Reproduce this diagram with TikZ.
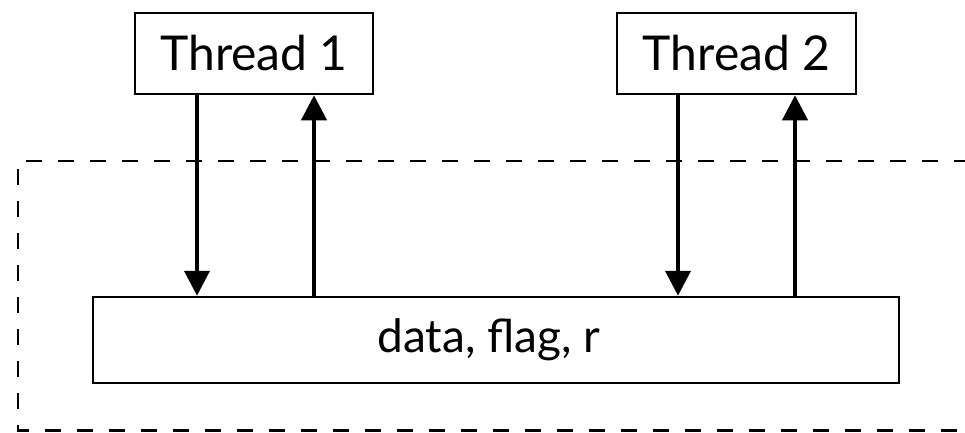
\documentclass[tikz,border=0pt]{standalone}
\usepackage{fontspec}
\setmainfont{Lato}
\usetikzlibrary{arrows.meta}
\begin{document}
\begin{tikzpicture}[x=1pt,y=1pt,
  box/.style={draw, line width=2.5pt, fill=white, inner sep=0pt,
    font=\fontsize{46}{50}\selectfont},
  thread/.style={box, minimum width=238pt, minimum height=81pt,
    font=\fontsize{48}{52}\selectfont},
  arr/.style={line width=4pt, -{Triangle[length=25pt,width=25pt]}},
  region/.style={line width=2.2pt, dash pattern=on 16pt off 16pt}]
\useasboundingbox (0,0) rectangle (965,432);
% shared region boundary, open on the right
\draw[region] (970,271) -- (18,271) -- (18,1.5) -- (970,1.5);
% threads and the shared variables
\node[thread] (t1) at (254,378.5) {Thread 1};
\node[thread, minimum width=239pt] (t2) at (736.5,378.5) {Thread 2};
\node[box, minimum width=806pt, minimum height=86pt] (data) at (496,92) {\hspace*{-14pt}data, flag, r};
% reads and writes
\draw[arr] ([xshift=-57pt]t1.south) -- ([xshift=-57pt]t1.south |- data.north);
\draw[arr] ([xshift=60pt]t1.south |- data.north) -- ([xshift=60pt]t1.south);
\draw[arr] ([xshift=-58.5pt]t2.south) -- ([xshift=-58.5pt]t2.south |- data.north);
\draw[arr] ([xshift=58.5pt]t2.south |- data.north) -- ([xshift=58.5pt]t2.south);
\end{tikzpicture}
\end{document}
